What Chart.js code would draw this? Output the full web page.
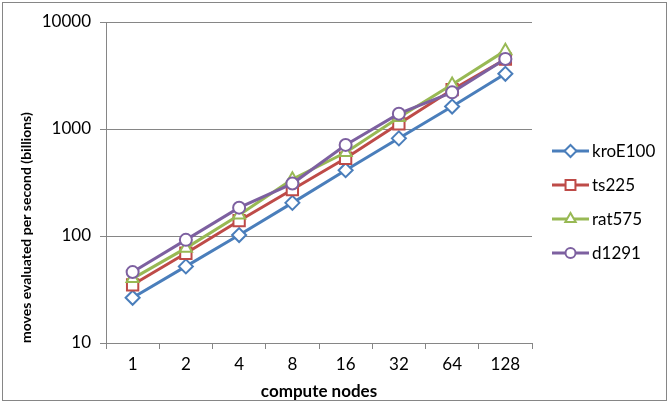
<!DOCTYPE html>
<html>
<head>
<meta charset="utf-8">
<script src="https://cdn.jsdelivr.net/npm/chart.js@4/dist/chart.umd.min.js"></script>
<style>
  html, body { margin: 0; padding: 0; background: #fff; }
  #wrap { width: 669px; height: 403px; position: relative; }
</style>
</head>
<body>
<div id="wrap"><canvas id="chart"></canvas></div>
<script>
// valeurs
const nodes = ['1', '2', '4', '8', '16', '32', '64', '128'];
const kroE100 = [26.5, 52, 102, 204, 412, 818, 1620, 3280];
const ts225 = [35, 69, 139, 272, 533, 1120, 2330, 4490];
const rat575 = [40, 77, 157, 339, 603, 1280, 2600, 5400];
const d1291 = [46, 92, 184, 309, 710, 1390, 2200, 4520];
const yTicks = [10, 100, 1000, 10000];

const gridGray = '#868686';
const FONT = 'Lato, "Open Sans", sans-serif';

function serie(label, data, color, style, radius, order) {
    return {
        label, data, order,
        borderColor: color,
        backgroundColor: color,
        borderWidth: 3,
        pointStyle: style,
        pointRadius: radius,
        pointBorderWidth: 2,
        pointBorderColor: color,
        pointBackgroundColor: '#fff',
        tension: 0
    };
}

// cadre extérieur
const framePlugin = {
    id: 'frame',
    beforeDraw(chart) {
        const c = chart.ctx;
        c.save();
        c.fillStyle = '#fff';
        c.fillRect(0, 0, chart.width, chart.height);
        c.strokeStyle = gridGray;
        c.lineWidth = 1;
        c.strokeRect(2.5, 2.5, chart.width - 5, chart.height - 5);
        c.restore();
    }
};

// légende façon Excel : trait + marqueur
const legendPlugin = {
    id: 'xlLegend',
    afterDraw(chart) {
        const c = chart.ctx;
        const x0 = 552, x1 = 589, y0 = 151, step = 34;
        c.save();
        chart.data.datasets.forEach((ds, i) => {
            const y = y0 + i * step;
            c.strokeStyle = ds.borderColor;
            c.lineWidth = 3;
            c.beginPath();
            c.moveTo(x0, y);
            c.lineTo(x1, y);
            c.stroke();
            c.fillStyle = '#fff';
            c.lineWidth = 2;
            Chart.helpers.drawPoint(c, {
                pointStyle: ds.pointStyle,
                radius: Math.max(ds.pointRadius - 1, 5),
                borderWidth: 2,
                rotation: 0
            }, (x0 + x1) / 2, y);
            c.fillStyle = '#000';
            c.font = '17px ' + FONT;
            c.textBaseline = 'middle';
            c.textAlign = 'left';
            c.fillText(ds.label, x1 + 3, y + 1);
        });
        c.restore();
    }
};

new Chart(document.getElementById('chart'), {
    type: 'line',
    data: {
        labels: nodes,
        datasets: [
            serie('kroE100', kroE100, '#4a7ebb', 'rectRot', 7, 3),
            serie('ts225', ts225, '#be4b48', 'rect', 8, 2),
            serie('rat575', rat575, '#98b954', 'triangle', 7, 1),
            serie('d1291', d1291, '#7d60a0', 'circle', 6, 0)
        ]
    },
    options: {
        responsive: true,
        maintainAspectRatio: false,
        animation: false,
        layout: { padding: { left: 0, top: 22, right: 137, bottom: 0 } },
        plugins: {
            legend: { display: false },
            tooltip: { enabled: false }
        },
        scales: {
            x: {
                offset: true,
                afterFit: s => { s.height = 60; },
                border: { color: gridGray, width: 1 },
                grid: { drawOnChartArea: false, color: gridGray, tickLength: 6, offset: true },
                ticks: { color: '#000', font: { family: FONT, size: 17 }, padding: 5, maxRotation: 0 },
                title: {
                    display: true, text: 'compute nodes', color: '#000',
                    font: { family: FONT, size: 17, weight: 'bold' },
                    padding: { top: 0, bottom: 1 }
                }
            },
            y: {
                type: 'logarithmic',
                min: 10,
                max: 10000,
                afterFit: s => { s.width = 106; },
                afterBuildTicks: s => { s.ticks = yTicks.map(v => ({ value: v })); },
                border: { color: gridGray, width: 1 },
                grid: { color: gridGray, tickLength: 6 },
                ticks: {
                    color: '#000', font: { family: FONT, size: 17 }, padding: 9,
                    callback: v => String(v)
                },
                title: {
                    display: true, text: 'moves evaluated per second (billions)', color: '#000',
                    align: 'start',
                    font: { family: FONT, size: 14, weight: 'bold' },
                    padding: { top: 18, bottom: 0 }
                }
            }
        }
    },
    plugins: [framePlugin, legendPlugin]
});
</script>
</body>
</html>
